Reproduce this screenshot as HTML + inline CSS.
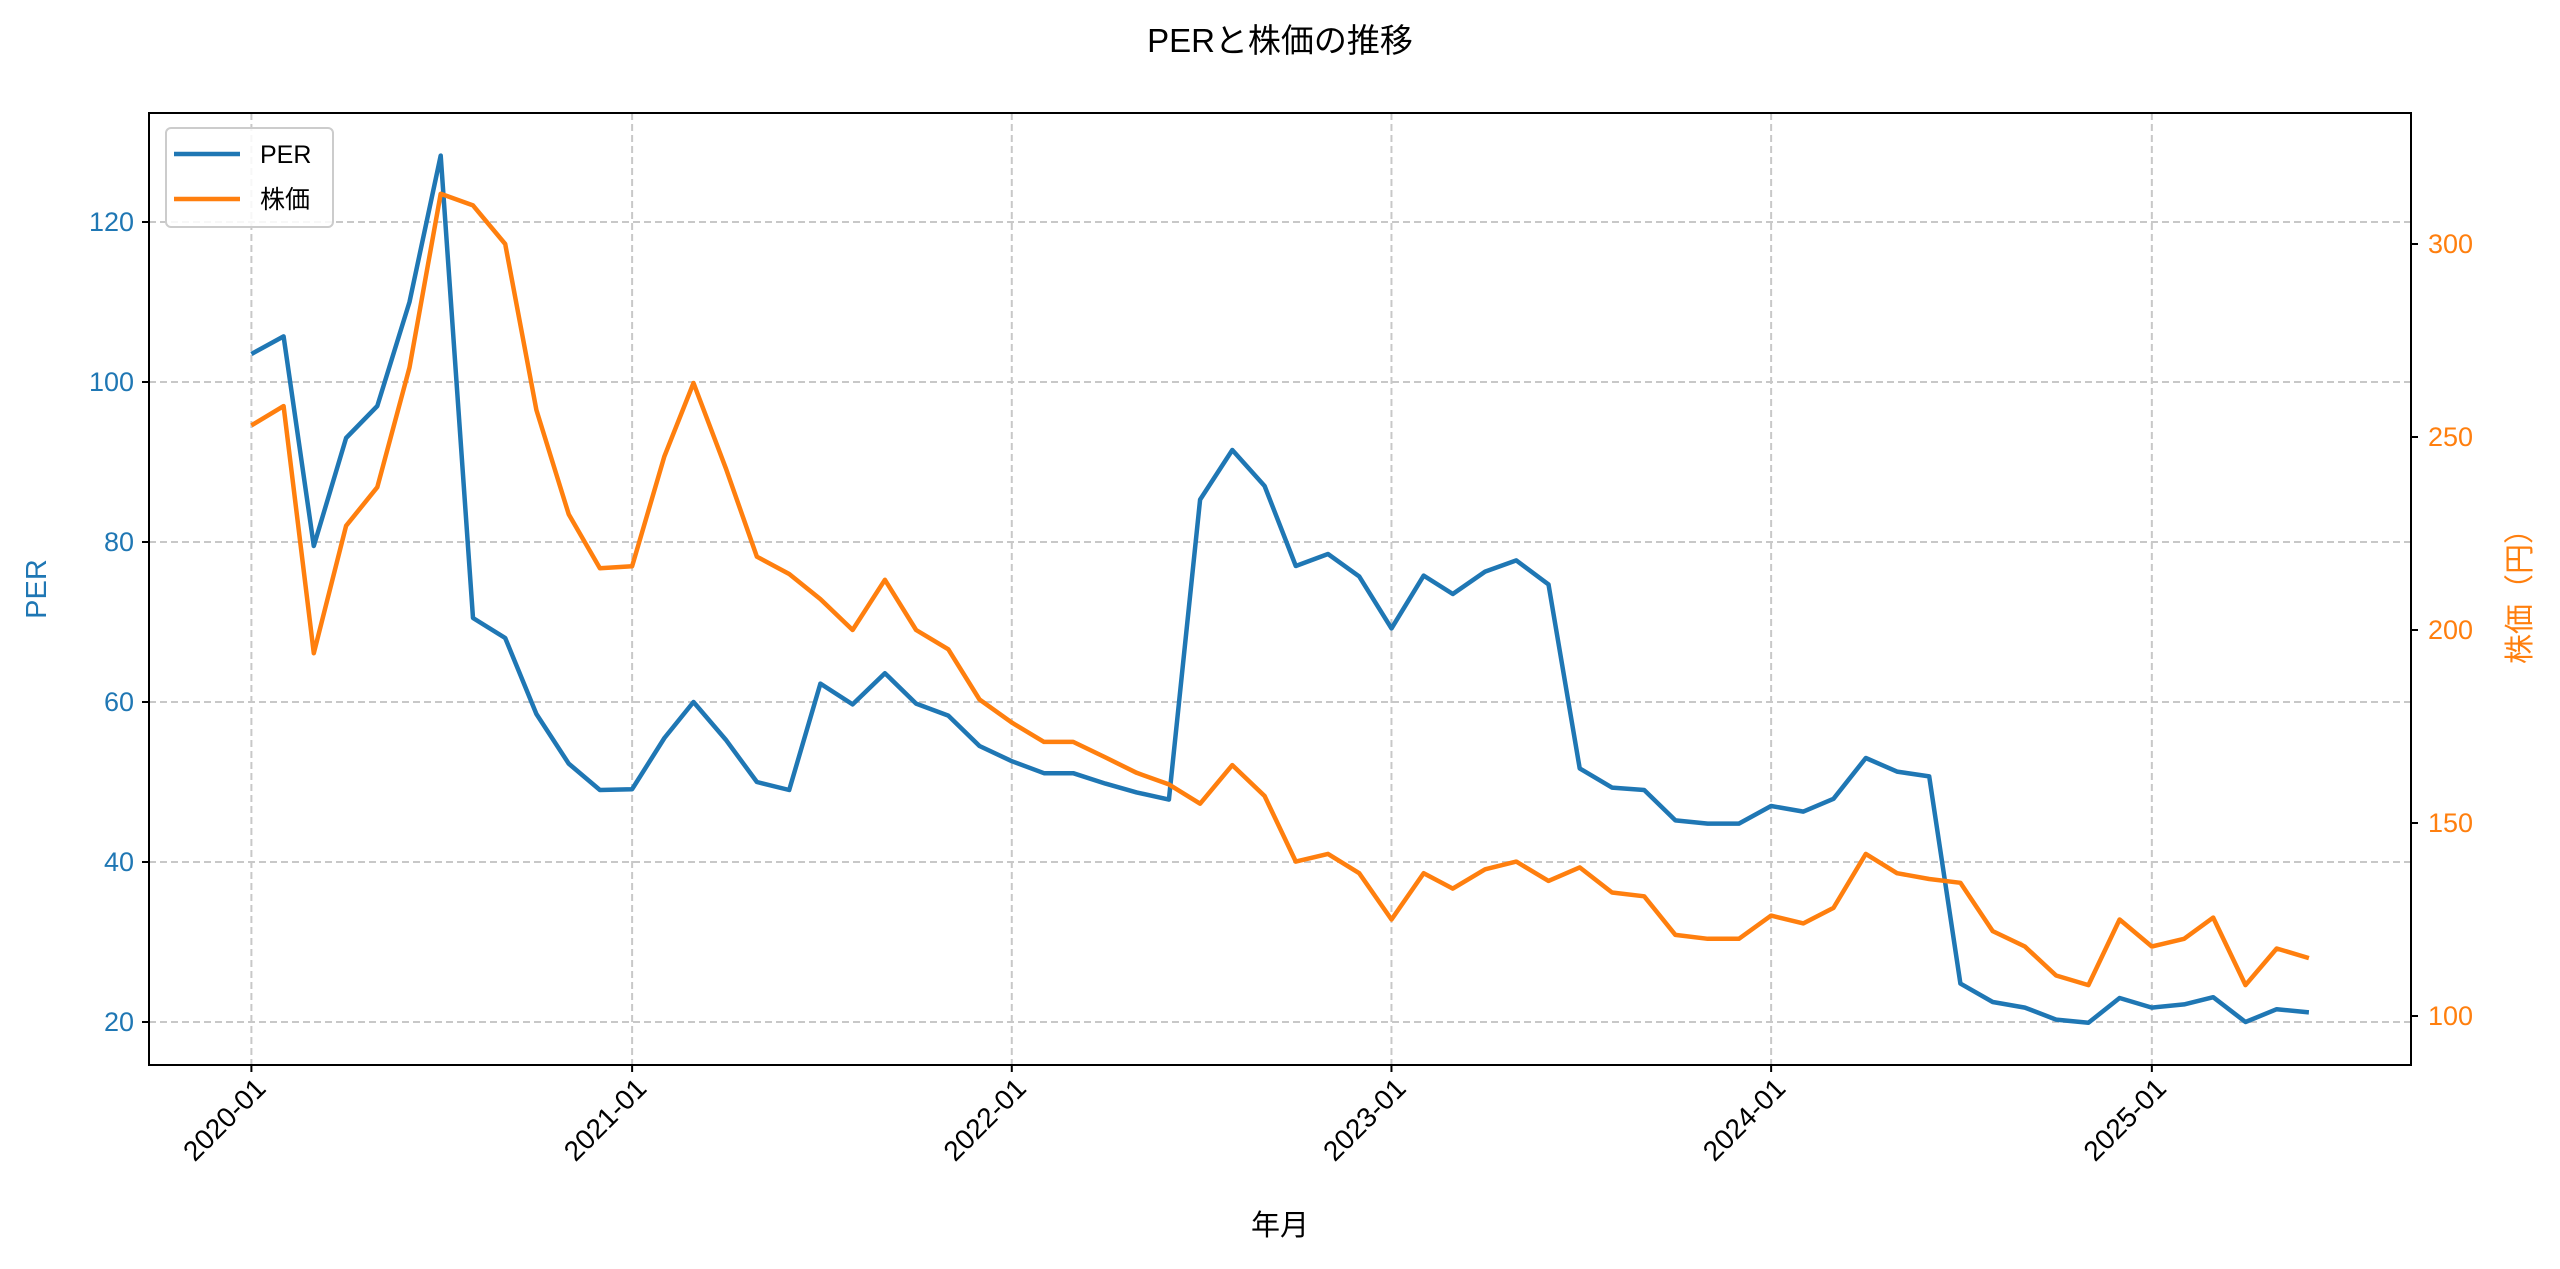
<!DOCTYPE html>
<html><head><meta charset="utf-8"><style>
html,body{margin:0;padding:0;background:#fff;}
svg{display:block;font-family:"Liberation Sans","Noto Sans CJK JP",sans-serif;}
</style></head><body>
<svg id="chart" width="2560" height="1269" viewBox="0 0 2560 1269" xmlns="http://www.w3.org/2000/svg">
<rect width="2560" height="1269" fill="#fff"/>
<text x="1280" y="52" text-anchor="middle" font-size="33" fill="#000">PERと株価の推移</text>
<g id="grid"></g>
<g id="lines"></g>
<rect x="149" y="113" width="2262" height="952" fill="none" stroke="#000" stroke-width="2"/>
<g id="axes"></g>
<text transform="translate(46,589) rotate(-90)" text-anchor="middle" font-size="29" fill="#1f77b4">PER</text>
<text transform="translate(2530,589) rotate(-90)" text-anchor="middle" font-size="30" fill="#ff7f0e">株価（円）</text>
<text x="1280" y="1235" text-anchor="middle" font-size="29" fill="#000">年月</text>
<g>
<rect x="166" y="128" width="167" height="99" rx="5" fill="#fff" fill-opacity="0.85" stroke="#ccc" stroke-width="2"/>
<line x1="174" y1="154" x2="240" y2="154" stroke="#1f77b4" stroke-width="4.5"/>
<text x="260" y="163" font-size="25">PER</text>
<line x1="174" y1="199" x2="240" y2="199" stroke="#ff7f0e" stroke-width="4.5"/>
<text x="260" y="208" font-size="25">株価</text>
</g>
</svg>
<script>
const months = [];
for (let y = 2020; y <= 2025; y++) for (let m = 1; m <= 12; m++) { if (y === 2025 && m > 6) break; months.push(y + '-' + String(m).padStart(2, '0')); }
const perValues = [103.5,105.7,79.5,93,97,110,128.3,70.5,68,58.5,52.3,49,
49.1,55.5,60,55.3,50,49,62.3,59.7,63.6,59.8,58.3,54.5,
52.6,51.1,51.1,49.8,48.7,47.8,85.3,91.5,87,77,78.5,75.7,
69.2,75.8,73.5,76.3,77.7,74.7,51.7,49.3,49,45.2,44.8,44.8,
47,46.3,47.9,53,51.3,50.7,24.8,22.5,21.8,20.3,19.9,23,
21.8,22.2,23.1,20,21.6,21.2];
const priceValues = [253,258,194,227,237,268,313,310,300,257,230,216,
216.5,245,264,242,219,214.5,208,200,213,200,195,182,
176,171,171,167,163,160,155,165,157,140,142,137,
125,137,133,138,140,135,138.5,132,131,121,120,120,
126,124,128,142,137,135.5,134.5,122,118,110.5,108,125,
118,120,125.5,108,117.5,115];
const perTicks = [20,40,60,80,100,120];
const priceTicks = [100,150,200,250,300];
const xTickLabels = ['2020-01','2021-01','2022-01','2023-01','2024-01','2025-01'];

const NS = 'http://www.w3.org/2000/svg';
const base = Date.UTC(2020,0,1);
function xScale(label){ const [y,m] = label.split('-').map(Number); const d=(Date.UTC(y,m-1,1)-base)/86400000; return 251.4 + d*1.0402; }
function yPer(v){ return 382 + (100 - v) * 8; }
function yPrice(v){ return 1016 - (v - 100) * 3.86; }
function mk(tag, attrs, parent){ const e=document.createElementNS(NS,tag); for(const k in attrs) e.setAttribute(k, attrs[k]); parent.appendChild(e); return e; }

const grid = document.getElementById('grid'), axes = document.getElementById('axes'), lines = document.getElementById('lines');
perTicks.forEach(v => {
  const y = yPer(v);
  const g = mk('line',{x1:149,x2:2411,y1:y,y2:y,stroke:'#c8c8c8','stroke-width':2,'stroke-dasharray':'7,4'},grid);
  
  
  mk('line',{x1:142,x2:149,y1:y,y2:y,stroke:'#000','stroke-width':2},axes);
  const t = mk('text',{x:134,y:y+9,'text-anchor':'end','font-size':27,fill:'#1f77b4'},axes);
  t.textContent = v;
  
  
});
priceTicks.forEach(v => {
  const y = yPrice(v);
  mk('line',{x1:2411,x2:2418,y1:y,y2:y,stroke:'#000','stroke-width':2},axes);
  const t = mk('text',{x:2428,y:y+9,'font-size':27,fill:'#ff7f0e'},axes);
  t.textContent = v;
  
  
});
xTickLabels.forEach(l => {
  const x = xScale(l);
  const g = mk('line',{x1:x,x2:x,y1:113,y2:1065,stroke:'#c8c8c8','stroke-width':2,'stroke-dasharray':'7,4'},grid);
  
  
  mk('line',{x1:x,x2:x,y1:1065,y2:1072,stroke:'#000','stroke-width':2},axes);
  const t = mk('text',{transform:'translate('+(x+16)+',1090) rotate(-45)','text-anchor':'end','font-size':28,fill:'#000'},axes);
  t.textContent = l;
  
  
});
function path(vals, yf, color, name){
  const d = vals.map((v,i)=>(i?'L':'M')+xScale(months[i]).toFixed(1)+','+yf(v).toFixed(1)).join('');
  const p = mk('path',{d:d,fill:'none',stroke:color,'stroke-width':4.5,'stroke-linejoin':'round'},lines);
  
  
}
path(perValues, yPer, '#1f77b4', 'per-line');
path(priceValues, yPrice, '#ff7f0e', 'price-line');
</script>
</body></html>
